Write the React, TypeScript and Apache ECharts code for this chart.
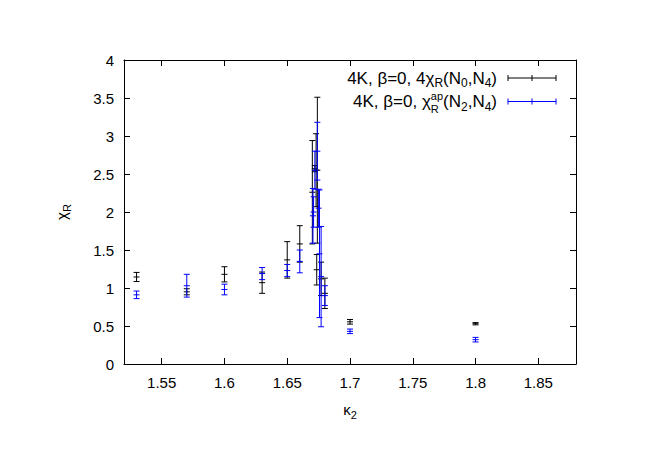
import React, { useEffect, useRef } from 'react';
import * as echarts from 'echarts';

const FONT = '"Liberation Sans Narrow", "Liberation Sans", Arial, sans-serif';
const LEGEND_FONT = '"Liberation Sans", Arial, sans-serif';

// axis ticks
const xTicks = [1.55, 1.6, 1.65, 1.7, 1.75, 1.8, 1.85];

// 4K, beta=0, 4 chi_R(N0,N4)  (black)
const blackX = [1.53, 1.57, 1.6, 1.63, 1.65, 1.66, 1.67, 1.672, 1.673, 1.674, 1.6735, 1.677, 1.68, 1.7, 1.8];
const blackY = [1.145, 0.95, 1.18, 1.07, 1.37, 1.58, 2.26, 2.57, 2.55, 2.55, 1.24, 1.12, 0.93, 0.555, 0.53];
const blackErr = [0.06, 0.04, 0.1, 0.14, 0.24, 0.24, 0.68, 0.04, 0.48, 0.96, 0.2, 0.22, 0.2, 0.03, 0.015];

// 4K, beta=0, chi_R^ap(N2,N4)  (blue)
const blueX = [1.53, 1.57, 1.6, 1.63, 1.65, 1.66, 1.6705, 1.671, 1.672, 1.674, 1.675, 1.6757, 1.677, 1.68, 1.7, 1.8];
const blueY = [0.91, 1.03, 0.98, 1.19, 1.23, 1.35, 1.95, 2.0, 2.55, 2.8, 2.05, 1.45, 1.15, 0.9, 0.43, 0.32];
const blueErr = [0.05, 0.15, 0.07, 0.08, 0.08, 0.15, 0.36, 0.2, 0.25, 0.38, 0.25, 0.84, 0.66, 0.13, 0.03, 0.03];

const BLACK = '#000000';
const BLUE = '#0000ff';

type Part = { t: string; s: number; dy: number; stackWith?: Part };

const legendRows: { parts: Part[]; color: string }[] = [
  {
    color: BLACK,
    parts: [
      { t: '4K, β=0, 4χ', s: 17, dy: 0 },
      { t: 'R', s: 12, dy: 5 },
      { t: '(N', s: 17, dy: 0 },
      { t: '0', s: 12, dy: 5 },
      { t: ',N', s: 17, dy: 0 },
      { t: '4', s: 12, dy: 5 },
      { t: ')', s: 17, dy: 0 },
    ],
  },
  {
    color: BLUE,
    parts: [
      { t: '4K, β=0, χ', s: 17, dy: 0 },
      { t: 'R', s: 11, dy: 7, stackWith: { t: 'ap', s: 11, dy: -6 } },
      { t: '(N', s: 17, dy: 0 },
      { t: '2', s: 12, dy: 5 },
      { t: ',N', s: 17, dy: 0 },
      { t: '4', s: 12, dy: 5 },
      { t: ')', s: 17, dy: 0 },
    ],
  },
];

function measure(text: string, size: number): number {
  const c = document.createElement('canvas');
  const ctx = c.getContext('2d');
  if (!ctx) return text.length * size * 0.5;
  ctx.font = `${size}px ${LEGEND_FONT}`;
  return ctx.measureText(text).width;
}

function makeRender(color: string) {
  return (params: any, api: any) => {
    const x = api.value(0);
    const y = api.value(1);
    const e = api.value(2);
    const c = api.coord([x, y]);
    const lo = api.coord([x, y - e]);
    const hi = api.coord([x, y + e]);
    const st = { stroke: color, lineWidth: 1 };
    const cap = 3;
    const m = 3;
    return {
      type: 'group',
      children: [
        { type: 'line', shape: { x1: c[0], y1: lo[1], x2: c[0], y2: hi[1] }, style: st },
        { type: 'line', shape: { x1: c[0] - cap, y1: lo[1], x2: c[0] + cap, y2: lo[1] }, style: st },
        { type: 'line', shape: { x1: c[0] - cap, y1: hi[1], x2: c[0] + cap, y2: hi[1] }, style: st },
        { type: 'line', shape: { x1: c[0] - m, y1: c[1], x2: c[0] + m, y2: c[1] }, style: st },
      ],
    };
  };
}

function buildLegend() {
  const elements: any[] = [];
  const rightX = 497;
  const rowY = [78, 101.5];
  const lineX0 = 508;
  const lineX1 = 556;
  legendRows.forEach((row, ri) => {
    const y = rowY[ri];
    const widths = row.parts.map((p) =>
      Math.max(measure(p.t, p.s), p.stackWith ? measure(p.stackWith.t, p.stackWith.s) : 0)
    );
    const total = widths.reduce((a, b) => a + b, 0);
    let x = rightX - total;
    row.parts.forEach((p, i) => {
      elements.push({
        type: 'text',
        x,
        y: y + p.dy,
        style: { text: p.t, fontSize: p.s, fontFamily: LEGEND_FONT, fill: '#000', align: 'left', verticalAlign: 'middle' },
      });
      if (p.stackWith) {
        elements.push({
          type: 'text',
          x,
          y: y + p.stackWith.dy,
          style: { text: p.stackWith.t, fontSize: p.stackWith.s, fontFamily: LEGEND_FONT, fill: '#000', align: 'left', verticalAlign: 'middle' },
        });
      }
      x += widths[i];
    });
    const st = { stroke: row.color, lineWidth: 1 };
    const mid = (lineX0 + lineX1) / 2;
    elements.push({ type: 'line', shape: { x1: lineX0, y1: y, x2: lineX1, y2: y }, style: st });
    elements.push({ type: 'line', shape: { x1: lineX0, y1: y - 3, x2: lineX0, y2: y + 3 }, style: st });
    elements.push({ type: 'line', shape: { x1: lineX1, y1: y - 3, x2: lineX1, y2: y + 3 }, style: st });
    elements.push({ type: 'line', shape: { x1: mid, y1: y - 3, x2: mid, y2: y + 3 }, style: st });
  });
  return elements;
}

export default function App() {
  const ref = useRef<HTMLDivElement>(null);
  useEffect(() => {
    if (!ref.current) return;
    const chart = echarts.init(ref.current, null, { renderer: 'svg' });
    const labelStyle = { color: '#000', fontSize: 15, fontFamily: FONT };
    const lineStyle = { color: '#000', width: 1 };
    const baseX = {
      type: 'value',
      min: 1.52,
      max: 1.88,
      splitLine: { show: false },
      axisLine: { show: true, onZero: false, lineStyle },
    };
    const baseY = {
      type: 'value',
      min: 0,
      max: 4,
      interval: 0.5,
      splitLine: { show: false },
      axisLine: { show: true, onZero: false, lineStyle },
    };
    chart.setOption({
      animation: false,
      backgroundColor: '#ffffff',
      grid: { left: 124, right: 88, top: 60, bottom: 106, containLabel: false },
      xAxis: [
        {
          ...baseX,
          position: 'bottom',
          name: '{a|κ}{b|2}',
          nameLocation: 'middle',
          nameGap: 34,
          nameTextStyle: {
            rich: {
              a: { fontSize: 15, fontFamily: FONT, color: '#000', lineHeight: 22, verticalAlign: 'middle' },
              b: { fontSize: 11, fontFamily: FONT, color: '#000', lineHeight: 11, verticalAlign: 'bottom' },
            },
          },
          axisTick: { show: true, inside: true, length: 6, lineStyle, customValues: xTicks },
          axisLabel: { ...labelStyle, margin: 11, customValues: xTicks, formatter: (v: number) => String(+v.toFixed(2)) },
        },
        {
          ...baseX,
          position: 'top',
          axisTick: { show: true, inside: true, length: 6, lineStyle, customValues: xTicks },
          axisLabel: { show: false },
        },
      ],
      yAxis: [
        {
          ...baseY,
          position: 'left',
          name: '{a|χ}{b|R}',
          nameLocation: 'middle',
          nameGap: 52,
          nameTextStyle: {
            rich: {
              a: { fontSize: 15, fontFamily: FONT, color: '#000', lineHeight: 22, verticalAlign: 'middle' },
              b: { fontSize: 11, fontFamily: FONT, color: '#000', lineHeight: 11, verticalAlign: 'bottom' },
            },
          },
          axisTick: { show: true, inside: true, length: 6, lineStyle },
          axisLabel: { ...labelStyle, margin: 10 },
        },
        {
          ...baseY,
          position: 'right',
          axisTick: { show: true, inside: true, length: 6, lineStyle },
          axisLabel: { show: false },
        },
      ],
      series: [
        {
          type: 'custom',
          name: 'black',
          xAxisIndex: 0,
          yAxisIndex: 0,
          renderItem: makeRender(BLACK),
          encode: { x: 0, y: 1 },
          data: blackX.map((x, i) => [x, blackY[i], blackErr[i]]),
          z: 3,
        },
        {
          type: 'custom',
          name: 'blue',
          xAxisIndex: 0,
          yAxisIndex: 0,
          renderItem: makeRender(BLUE),
          encode: { x: 0, y: 1 },
          data: blueX.map((x, i) => [x, blueY[i], blueErr[i]]),
          z: 4,
        },
      ],
      graphic: buildLegend(),
    });
    return () => chart.dispose();
  }, []);
  return (
    <div
      ref={ref}
      style={{ position: 'fixed', left: 0, top: 0, width: 664, height: 470, background: '#fff' }}
    />
  );
}
